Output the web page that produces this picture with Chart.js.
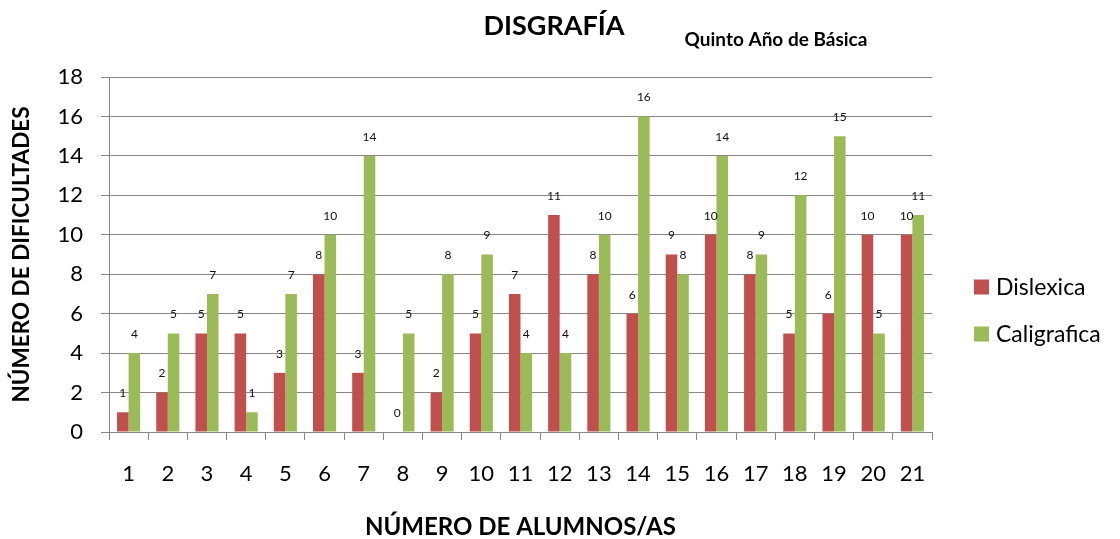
<!DOCTYPE html>
<html>
<head>
<meta charset="utf-8">
<script src="https://cdn.jsdelivr.net/npm/chart.js@4"></script>
<style>
  html, body { margin: 0; padding: 0; background: #fff; }
  #wrap { width: 1120px; height: 539px; }
</style>
</head>
<body>
<div id="wrap"><canvas id="grafico"></canvas></div>
<script>
const alumnos = ['1','2','3','4','5','6','7','8','9','10','11','12','13','14','15','16','17','18','19','20','21'];
const dislexica = [1, 2, 5, 5, 3, 8, 3, 0, 2, 5, 7, 11, 8, 6, 9, 10, 8, 5, 6, 10, 10];
const caligrafica = [4, 5, 7, 1, 7, 10, 14, 5, 8, 9, 4, 4, 10, 16, 8, 14, 9, 12, 15, 5, 11];
const yTicks = [0, 2, 4, 6, 8, 10, 12, 14, 16, 18];

const FONT = 'Lato, "Liberation Sans", sans-serif';
const GRIS = '#878787';

// etiquetas de valor encima de cada barra
const etiquetas = {
  id: 'etiquetas',
  afterDatasetsDraw(chart) {
    const ctx = chart.ctx;
    ctx.save();
    ctx.font = '12px ' + FONT;
    ctx.fillStyle = '#111';
    ctx.textAlign = 'center';
    ctx.textBaseline = 'middle';
    chart.data.datasets.forEach((ds, i) => {
      chart.getDatasetMeta(i).data.forEach((bar, j) => {
        ctx.fillText(String(ds.data[j]), bar.x, bar.y - 19);
      });
    });
    ctx.restore();
  }
};

// titulos y leyenda a la derecha
const extras = {
  id: 'extras',
  afterDraw(chart) {
    const ctx = chart.ctx;
    ctx.save();
    ctx.fillStyle = '#000';
    ctx.textAlign = 'center';
    ctx.textBaseline = 'middle';
    ctx.font = 'bold 27px ' + FONT;
    ctx.fillText('DISGRAFÍA', 554, 26);
    ctx.font = 'bold 19px ' + FONT;
    ctx.fillText('Quinto Año de Básica', 776, 40);

    ctx.textAlign = 'left';
    ctx.font = '23px ' + FONT;
    chart.data.datasets.forEach((ds, i) => {
      const y = 287 + i * 47;
      ctx.fillStyle = ds.backgroundColor;
      ctx.fillRect(974, y - 7.5, 15, 15);
      ctx.fillStyle = '#000';
      ctx.fillText(ds.label, 996, y + 1);
    });
    ctx.restore();
  }
};

new Chart(document.getElementById('grafico'), {
  type: 'bar',
  data: {
    labels: alumnos,
    datasets: [
      { label: 'Dislexica', data: dislexica, backgroundColor: '#C0504D' },
      { label: 'Caligrafica', data: caligrafica, backgroundColor: '#9BBB59' }
    ]
  },
  options: {
    responsive: true,
    maintainAspectRatio: false,
    animation: false,
    categoryPercentage: 0.59,
    barPercentage: 1,
    layout: { padding: { top: 77, right: 188, left: 0, bottom: 0 } },
    plugins: {
      legend: { display: false },
      tooltip: { enabled: false }
    },
    scales: {
      x: {
        afterFit(scale) { scale.height = 107; },
        grid: {
          offset: true,
          drawOnChartArea: false,
          drawTicks: true,
          tickLength: 8,
          color: GRIS
        },
        border: { color: GRIS, width: 1 },
        ticks: { color: '#000', padding: 21, font: { family: FONT, size: 22 } },
        title: {
          display: true,
          text: 'NÚMERO DE ALUMNOS/AS',
          color: '#000',
          font: { family: FONT, size: 24, weight: 'bold', lineHeight: 1 },
          padding: { top: 0, bottom: 0 }
        }
      },
      y: {
        min: 0,
        max: 18,
        afterFit(scale) { scale.width = 109; },
        afterBuildTicks(scale) { scale.ticks = yTicks.map(v => ({ value: v })); },
        grid: { color: GRIS, tickLength: 8, drawTicks: true },
        border: { color: GRIS, width: 1 },
        ticks: { color: '#000', padding: 18, font: { family: FONT, size: 22 } },
        title: {
          display: true,
          text: 'NÚMERO DE DIFICULTADES',
          color: '#000',
          font: { family: FONT, size: 22.5, weight: 'bold' },
          padding: { top: 8, bottom: 0 }
        }
      }
    }
  },
  plugins: [etiquetas, extras]
});
</script>
</body>
</html>
